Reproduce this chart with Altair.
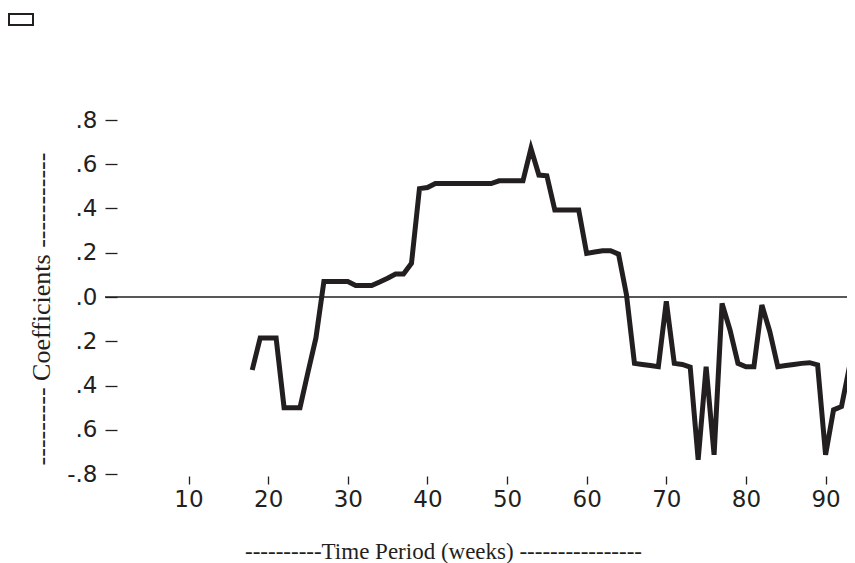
import altair as alt
import pandas as pd

# ---- data ----
weeks = list(range(18, 95))
coefficients = [
    -0.33, -0.185, -0.185, -0.185, -0.50, -0.50, -0.50, -0.34, -0.185,   # 18-26
    0.07, 0.07, 0.07, 0.07, 0.052, 0.052, 0.052, 0.068, 0.085,          # 27-35
    0.104, 0.104, 0.152, 0.49, 0.495, 0.513, 0.513, 0.513, 0.513,       # 36-44
    0.513, 0.513, 0.513, 0.513, 0.525, 0.525, 0.525, 0.525, 0.671, 0.551,  # 45-54
    0.548, 0.393, 0.393, 0.393, 0.393, 0.197, 0.203, 0.209, 0.209,      # 55-63
    0.194, 0.01, -0.30, -0.305, -0.31, -0.315, -0.02, -0.30, -0.305,    # 64-72
    -0.317, -0.736, -0.315, -0.713, -0.029, -0.149, -0.30, -0.315,      # 73-80
    -0.315, -0.036, -0.157, -0.315, -0.31, -0.305, -0.30, -0.297,       # 81-88
    -0.307, -0.713, -0.51, -0.495, -0.315, -0.30,                       # 89-94
]
series_name = ["Coefficients"]
x_ticks = [10, 20, 30, 40, 50, 60, 70, 80, 90]
y_ticks = [-0.8, -0.6, -0.4, -0.2, 0.0, 0.2, 0.4, 0.6, 0.8]
y_tick_labels = ["-.8", ".6", ".4", ".2", ".0", ".2", ".4", ".6", ".8"]
x_title = "----------Time Period (weeks)  ----------------"
y_title = "--------- Coefficients -----------"
zero_level = [0.0]

INK = "#231f20"
W, H = 730, 354

df = pd.DataFrame({"week": weeks, "coef": coefficients, "series": series_name * len(weeks)})
zero_df = pd.DataFrame({"coef": zero_level})

# label expression built from the tick label list (numeric match)
expr = "''"
for v, lab in zip(y_ticks, y_tick_labels):
    expr = f"abs(datum.value - ({v})) < 0.01 ? '{lab}' : ({expr})"

LABEL_FONT = "DejaVu Sans"

x_enc = alt.X(
    "week:Q",
    scale=alt.Scale(domain=[1.02, 92.69], nice=False, zero=False),
    axis=alt.Axis(
        values=x_ticks, title=x_title, domain=False, grid=False,
        tickSize=8, tickWidth=1.3, tickColor=INK, offset=2, labelPadding=4,
        labelFont=LABEL_FONT, labelFontSize=23, labelColor=INK,
        titleFont="Liberation Serif", titleFontSize=23, titleFontWeight="normal",
        titleColor=INK, titleX=326, titleY=75, titleBaseline="middle", titleAlign="center",
    ),
)
y_enc = alt.Y(
    "coef:Q",
    scale=alt.Scale(domain=[-0.8, 0.8], nice=False, zero=False),
    axis=alt.Axis(
        values=y_ticks, labelExpr=expr, title=y_title, domain=False, grid=False,
        tickSize=12, tickWidth=1.3, tickColor=INK, labelPadding=8,
        labelFont=LABEL_FONT, labelFontSize=23, labelColor=INK,
        titleFont="Liberation Serif", titleFontSize=26, titleFontWeight="normal",
        titleColor=INK, titleX=-76, titleY=188.5, titleBaseline="middle", titleAlign="center",
    ),
)

line = alt.Chart(df).mark_line(strokeWidth=5, clip=True, strokeJoin="miter").encode(
    x=x_enc,
    y=y_enc,
    color=alt.Color(
        "series:N",
        scale=alt.Scale(range=[INK]),
        legend=alt.Legend(
            orient="none", legendX=-109, legendY=-113.6, title=None,
            symbolType="M-1,-0.46H1V0.46H-1Z", symbolSize=576,
            symbolStrokeWidth=2, symbolFillColor="white", symbolStrokeColor=INK,
            labelExpr="''", padding=0,
        ),
    ),
)

rule = alt.Chart(zero_df).mark_rule(color=INK, strokeWidth=1.3).encode(
    y=alt.Y("coef:Q"),
    x=alt.value(-12),
    x2=alt.value(W),
)

chart = (
    alt.layer(rule, line)
    .properties(
        width=W, height=H,
        autosize=alt.AutoSizeParams(type="none"),
        padding={"left": 109, "top": 112, "right": 0, "bottom": 555 - 112 - H},
        background="white",
    )
    .configure_view(stroke=None)
)

chart.save("out.html", embed_options={"renderer": "svg", "actions": False})
